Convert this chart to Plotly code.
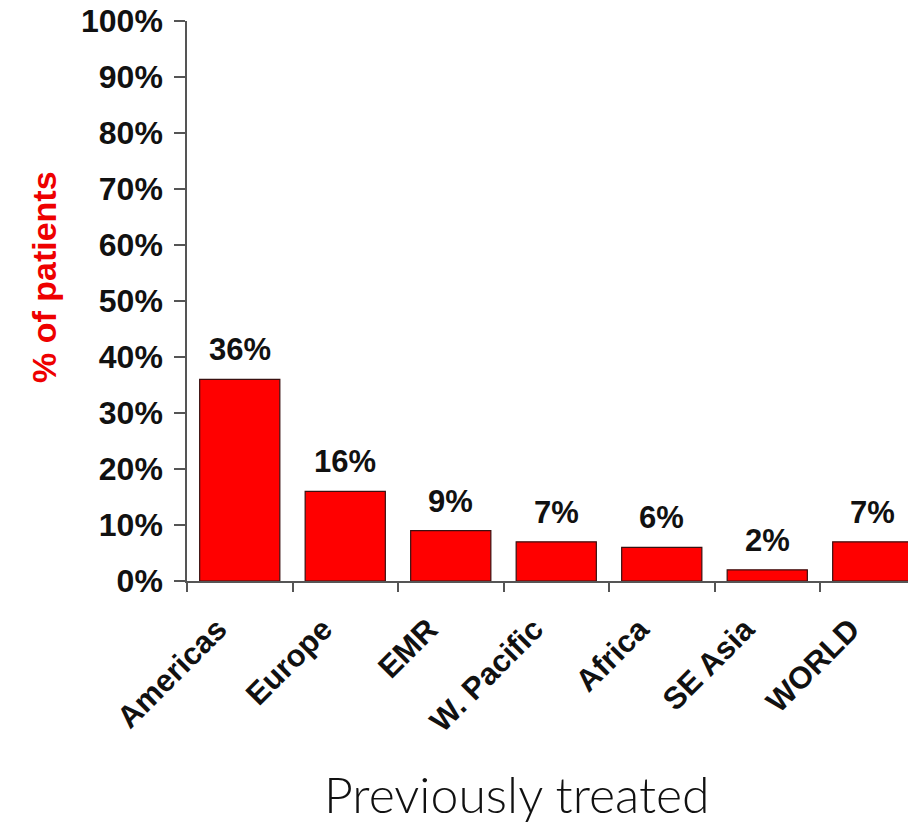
import plotly.graph_objects as go

# Share of previously treated patients, by WHO region
regions = ["Americas", "Europe", "EMR", "W. Pacific", "Africa", "SE Asia", "WORLD"]
percent = [36, 16, 9, 7, 6, 2, 7]
y_ticks = [0, 10, 20, 30, 40, 50, 60, 70, 80, 90, 100]
y_tick_text = [f"{v}%" for v in y_ticks]

BOLD = dict(family="Liberation Sans", color="#111111", weight="bold")

fig = go.Figure(
    go.Bar(
        x=regions,
        y=percent,
        marker=dict(color="#FF0000", line=dict(color="#3a1010", width=1.2)),
        width=0.76,
    )
)

# value labels sitting a little above each bar
value_labels = [
    dict(
        x=r, y=v, xref="x", yref="y",
        text=f"{v}%",
        showarrow=False,
        xanchor="center", yanchor="bottom",
        yshift=10,
        font=dict(BOLD, size=31),
    )
    for r, v in zip(regions, percent)
]

fig.update_layout(
    width=908,
    height=825,
    margin=dict(l=187, r=0, t=21, b=244),
    paper_bgcolor="white",
    plot_bgcolor="white",
    showlegend=False,
    font=dict(family="Liberation Sans", color="#111111"),
    xaxis=dict(
        range=[-0.5, 6.334],
        showline=True,
        linecolor="#555555",
        linewidth=1.5,
        ticks="outside",
        tickson="boundaries",
        ticklen=9,
        tickcolor="#555555",
        tickwidth=1.5,
        tickangle=-45,
        tickfont=dict(BOLD, size=31),
        ticklabelstandoff=16,
        ticklabelshift=-22,
        showgrid=False,
        zeroline=False,
        automargin=False,
    ),
    yaxis=dict(
        range=[0, 100],
        tickvals=y_ticks,
        ticktext=y_tick_text,
        showline=True,
        linecolor="#555555",
        linewidth=1.5,
        ticks="outside",
        ticklen=11,
        tickcolor="#555555",
        tickwidth=1.5,
        tickfont=dict(BOLD, size=32),
        ticklabelstandoff=5,
        showgrid=False,
        zeroline=False,
        automargin=False,
    ),
    annotations=value_labels + [
        dict(
            text="% of patients",
            xref="paper", yref="paper",
            x=-(187 - 44) / 721,
            y=(581 - 277) / 560,
            xanchor="center", yanchor="middle",
            textangle=-90,
            showarrow=False,
            font=dict(family="Liberation Sans", size=34, color="#EE0000", weight="bold"),
        ),
        dict(
            text="Previously treated",
            xref="paper", yref="paper",
            x=(517 - 187) / 721,
            y=-(794 - 581) / 560,
            xanchor="center", yanchor="middle",
            showarrow=False,
            font=dict(family="Lato", size=50, color="#111111", weight=300),
        ),
    ],
)

fig.write_html("out.html")
